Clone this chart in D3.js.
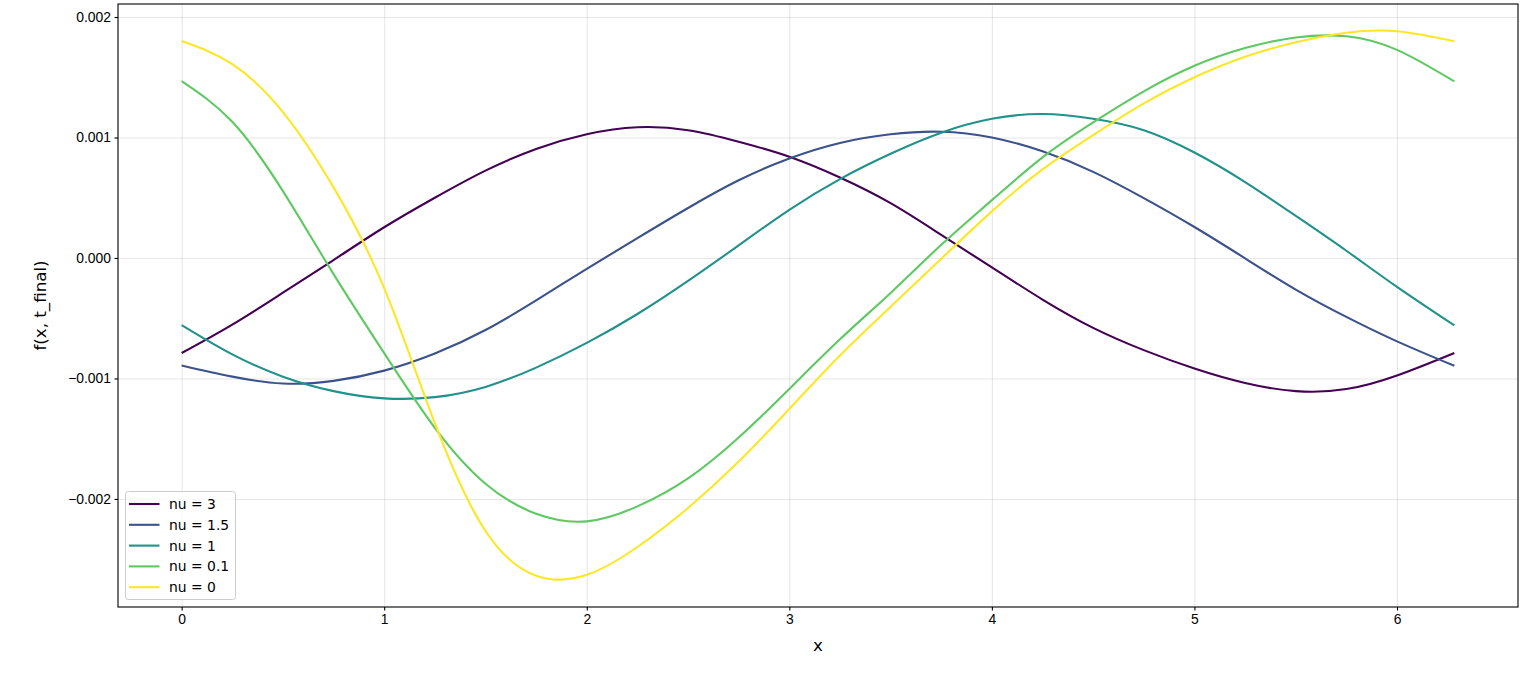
<!DOCTYPE html>
<html>
<head>
<meta charset="utf-8">
<script src="https://cdn.jsdelivr.net/npm/d3@7"></script>
<style>
	body { margin: 0; background: #fff; }
	svg { display: block; font-family: "DejaVu Sans", sans-serif; }
	.axis path, .axis line { stroke: #000; stroke-width: 1.1; }
	.axis text { font-size: 13.9px; fill: #000; }
	.grid line { stroke: #b0b0b0; stroke-opacity: 0.3; stroke-width: 1.1; }
	.grid path { display: none; }
</style>
</head>
<body>
<div id="chart"></div>
<script>
// x samples (0 .. 2*pi)
const xValues = [0, 0.25, 0.5, 0.75, 1, 1.25, 1.5, 1.75, 2, 2.25, 2.5, 2.75, 3, 3.25, 3.5,
	3.75, 4, 4.25, 4.5, 4.75, 5, 5.25, 5.5, 5.75, 6, 6.2832];

// f(x, t_final), in units of 1e-3
const nu3 = [-0.789, -0.553, -0.288, -0.017, 0.255, 0.5, 0.725, 0.905, 1.027, 1.085, 1.06, 0.965,
	0.84, 0.668, 0.455, 0.192, -0.078, -0.345, -0.58, -0.765, -0.918, -1.038, -1.105, -1.088, -0.975, -0.788];
const nu15 = [-0.892, -0.985, -1.042, -1.02, -0.935, -0.793, -0.598, -0.352, -0.09, 0.165, 0.415, 0.645,
	0.826, 0.955, 1.027, 1.048, 1.0, 0.885, 0.715, 0.497, 0.257, -0.003, -0.262, -0.489, -0.692, -0.895];
const nu1 = [-0.557, -0.8, -0.985, -1.105, -1.165, -1.155, -1.07, -0.91, -0.705, -0.465, -0.19, 0.105,
	0.4, 0.655, 0.865, 1.04, 1.155, 1.195, 1.155, 1.06, 0.875, 0.63, 0.35, 0.06, -0.24, -0.56];
const nu01 = [1.468, 1.13, 0.555, -0.134, -0.79, -1.41, -1.874, -2.123, -2.186, -2.062, -1.83, -1.49,
	-1.087, -0.675, -0.29, 0.109, 0.48, 0.835, 1.125, 1.383, 1.595, 1.742, 1.83, 1.84, 1.727, 1.465];
const nu0 = [1.8, 1.609, 1.211, 0.586, -0.251, -1.37, -2.266, -2.637, -2.63, -2.399, -2.075, -1.69,
	-1.253, -0.81, -0.405, -0.006, 0.387, 0.735, 1.02, 1.283, 1.5, 1.67, 1.79, 1.87, 1.882, 1.799];

const seriesLabels = ["nu = 3", "nu = 1.5", "nu = 1", "nu = 0.1", "nu = 0"];
const seriesColors = ["#440154", "#3b528b", "#21918c", "#5ec962", "#fde725"];
const xTicks = [0, 1, 2, 3, 4, 5, 6];
const yTicks = [-0.002, -0.001, 0, 0.001, 0.002];
const yDomain = [-0.002897, 0.002108];
const unit = 1e-3;

const series = [nu3, nu15, nu1, nu01, nu0].map((vals, i) => ({
	label: seriesLabels[i],
	color: seriesColors[i],
	points: vals.map((v, j) => ({ x: xValues[j], y: v * unit })),
}));

// Figure layout
const W = 1536, H = 678;
const margin = { top: 4, right: 18, bottom: 71, left: 118 };
const width = W - margin.left - margin.right;
const height = H - margin.top - margin.bottom;

const svg = d3.select("#chart").append("svg").attr("width", W).attr("height", H);
const g = svg.append("g").attr("transform", `translate(${margin.left},${margin.top})`);

// matplotlib-style 5% padding on x
const xMax = xValues[xValues.length - 1];
const xScale = d3.scaleLinear().domain([-0.05 * xMax, xMax * 1.05]).range([0, width]);
const yScale = d3.scaleLinear().domain(yDomain).range([height, 0]);

// grid
g.append("g").attr("class", "grid").attr("transform", `translate(0,${height})`)
	.call(d3.axisBottom(xScale).tickValues(xTicks).tickSize(-height).tickFormat(""));
g.append("g").attr("class", "grid")
	.call(d3.axisLeft(yScale).tickValues(yTicks).tickSize(-width).tickFormat(""));

// lines
const line = d3.line()
	.x((d) => xScale(d.x))
	.y((d) => yScale(d.y))
	.curve(d3.curveNatural);

g.selectAll(".series")
	.data(series)
	.enter()
	.append("path")
	.attr("class", "series")
	.attr("fill", "none")
	.attr("stroke", (d) => d.color)
	.attr("stroke-width", 2.1)
	.attr("d", (d) => line(d.points));

// axes
g.append("g").attr("class", "axis").attr("transform", `translate(0,${height})`)
	.call(d3.axisBottom(xScale).tickValues(xTicks).tickFormat(d3.format("d")).tickSize(3.5).tickPadding(3.5))
	.call((a) => a.select(".domain").remove());
g.append("g").attr("class", "axis")
	.call(d3.axisLeft(yScale).tickValues(yTicks).tickFormat(d3.format(".3f")).tickSize(3.5).tickPadding(3.5))
	.call((a) => a.select(".domain").remove());

// frame
g.append("rect").attr("width", width).attr("height", height)
	.attr("fill", "none").attr("stroke", "#000").attr("stroke-width", 1.1);

// axis labels
svg.append("text")
	.attr("x", margin.left + width / 2).attr("y", 651)
	.attr("text-anchor", "middle").style("font-size", "16.7px")
	.text("x");
svg.append("text")
	.attr("transform", `translate(46,${margin.top + height / 2}) rotate(-90)`)
	.attr("text-anchor", "middle").style("font-size", "16.7px")
	.text("f(x, t_final)");

// legend
const legend = svg.append("g").attr("transform", "translate(125.5,491.5)");
legend.append("rect")
	.attr("width", 110).attr("height", 108).attr("rx", 3)
	.attr("fill", "#fff").attr("fill-opacity", 0.8)
	.attr("stroke", "#cccccc").attr("stroke-width", 1);
series.forEach((s, i) => {
	const cy = 12.5 + i * 20.8;
	legend.append("line")
		.attr("x1", 3.5).attr("x2", 34).attr("y1", cy).attr("y2", cy)
		.attr("stroke", s.color).attr("stroke-width", 2.1);
	legend.append("text")
		.attr("x", 43.5).attr("y", cy + 5)
		.style("font-size", "13.9px")
		.text(s.label);
});
</script>
</body>
</html>
